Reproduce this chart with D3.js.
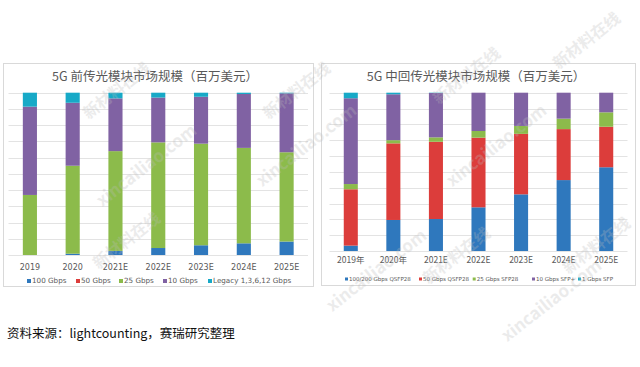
<!DOCTYPE html>
<html><head><meta charset="utf-8">
<script src="https://cdn.jsdelivr.net/npm/d3@7"></script>
<style>body{margin:0;background:#fff;}svg{display:block;}</style>
</head><body>
<svg id="c" width="640" height="367"></svg>
<script>
// ---- data ----
const years1 = ["2019","2020","2021E","2022E","2023E","2024E","2025E"];
const series1 = ["100 Gbps","50 Gbps","25 Gbps","10 Gbps","Legacy 1,3,6,12 Gbps"];
const s1_100 = [0, 0.8, 2.5, 4.3, 6.0, 7.2, 8.3];
const s1_50  = [0, 0, 0, 0, 0, 0, 0];
const s1_25  = [37.0, 54.2, 61.5, 65.1, 62.6, 58.8, 55.0];
const s1_10  = [54.4, 38.8, 32.5, 27.6, 28.9, 33.2, 36.3];
const s1_leg = [8.6, 6.2, 3.5, 3.0, 2.5, 0.8, 0.4];

const years2 = ["2019年","2020年","2021E","2022E","2023E","2024E","2025E"];
const series2 = ["100/200 Gbps QSFP28","50 Gbps QSFP28","25 Gbps SFP28","10 Gbps SFP+","1 Gbps SFP"];
const s2_100 = [3.4, 19.6, 20.2, 27.6, 35.8, 44.8, 52.9];
const s2_50  = [35.6, 48.4, 48.8, 44.0, 38.2, 32.2, 25.6];
const s2_25  = [3.3, 2.0, 2.8, 4.2, 5.0, 6.6, 9.1];
const s2_10  = [54.2, 29.0, 28.0, 24.2, 21.0, 16.4, 12.4];
const s2_1   = [3.5, 1.0, 0.2, 0, 0, 0, 0];

const colors = ["#2f78bd","#dc3d3b","#8cbb4b","#8062a3","#17a9c7"];
const title1 = "5G 前传光模块市场规模（百万美元）";
const title2 = "5G 中回传光模块市场规模（百万美元）";
const source = "资料来源：lightcounting，赛瑞研究整理";

const svg = d3.select("#c");
const CJK = "'Noto Sans CJK SC','Noto Sans',sans-serif";

function chart(cfg){
  const g = svg.append("g");
  g.append("rect").attr("x",cfg.box[0]).attr("y",cfg.box[1]).attr("width",cfg.box[2]).attr("height",cfg.box[3])
    .attr("fill","#fff").attr("stroke","#d9d9d9").attr("stroke-width",1);
  g.append("text").attr("x",cfg.titleX).attr("y",cfg.titleY).attr("text-anchor","middle")
    .attr("font-family",CJK).attr("font-size",12.5).attr("fill","#595959").text(cfg.title);
  const x = d3.scaleBand().domain(cfg.cats).range([cfg.x0,cfg.x1]).paddingInner(0.67).paddingOuter(0.335);
  const y = d3.scaleLinear().domain([0,100]).range([cfg.yb,cfg.yt]);
  g.append("g").selectAll("line").data(d3.range(0,101,10)).join("line")
    .attr("x1",cfg.x0).attr("x2",cfg.x1).attr("y1",d=>Math.round(y(d))+0.5).attr("y2",d=>Math.round(y(d))+0.5)
    .attr("stroke","#e3e3e3").attr("stroke-width",1);
  const rows = cfg.cats.map((c,i)=>{const o={cat:c}; cfg.series.forEach((s,j)=>o[s]=cfg.values[j][i]); return o;});
  const stack = d3.stack().keys(cfg.series)(rows);
  g.append("g").selectAll("g").data(stack).join("g").attr("fill",(d,i)=>colors[i])
    .selectAll("rect").data(d=>d).join("rect")
    .attr("x",d=>x(d.data.cat)).attr("width",x.bandwidth())
    .attr("y",d=>y(d[1])).attr("height",d=>Math.max(0,y(d[0])-y(d[1])));
  const ax = g.append("g").attr("transform",`translate(0,${cfg.yb})`)
    .call(d3.axisBottom(x).tickSize(0).tickPadding(cfg.tickPad));
  ax.select(".domain").remove();
  ax.selectAll("text").attr("font-family",cfg.axisFont).attr("font-size",cfg.axisSize).attr("fill","#595959");
  const lg = g.append("g");
  cfg.series.forEach((s,i)=>{
    lg.append("rect").attr("x",cfg.legX[i]).attr("y",cfg.legY-cfg.legM).attr("width",cfg.legM).attr("height",cfg.legM).attr("fill",colors[i]);
    lg.append("text").attr("x",cfg.legX[i]+cfg.legM+1).attr("y",cfg.legY).attr("font-family","'DejaVu Sans',sans-serif")
      .attr("font-size",cfg.legSize).attr("fill","#595959").text(s);
  });
}

chart({box:[3.5,63.5,310,223], title:title1, titleX:155, titleY:81, cats:years1, series:series1,
  values:[s1_100,s1_50,s1_25,s1_10,s1_leg], x0:8.5, x1:308, yb:255, yt:92.7,
  axisFont:"'DejaVu Sans',sans-serif", axisSize:8, tickPad:9,
  legX:[27,76,119,163,208], legY:283, legM:4, legSize:7.2});
chart({box:[321.5,63.5,314,222], title:title2, titleX:476, titleY:81, cats:years2, series:series2,
  values:[s2_100,s2_50,s2_25,s2_10,s2_1], x0:329.5, x1:627.5, yb:251, yt:92.7,
  axisFont:"'Noto Sans CJK SC','Open Sans',sans-serif", axisSize:8.5, tickPad:6,
  legX:[345,419,472.7,532,578], legY:280.5, legM:3, legSize:5.5});

svg.append("text").attr("x",7).attr("y",338).attr("font-family",CJK).attr("font-size",12.5)
  .attr("fill","#111").text(source);

// watermarks
const wm = [["新材料在线",120,95],["xincailiao.com",150,170],["新材料在线",300,95],["新材料在线",470,80],
  ["xincailiao.com",500,150],["新材料在线",590,45],["新材料在线",130,245],["新材料在线",600,250],
  ["xincailiao.com",380,275],["xincailiao.com",555,305],["新材料在线",460,260],["xincailiao.com",310,150]];
svg.append("g").selectAll("text").data(wm).join("text")
  .attr("transform",d=>`translate(${d[1]},${d[2]}) rotate(-38)`).attr("text-anchor","middle")
  .attr("font-family",CJK).attr("font-size",d=>d[0].length>6?17:16).attr("font-weight","bold")
  .attr("fill","#bbb").attr("opacity",0.28).text(d=>d[0]);
</script>
</body></html>
